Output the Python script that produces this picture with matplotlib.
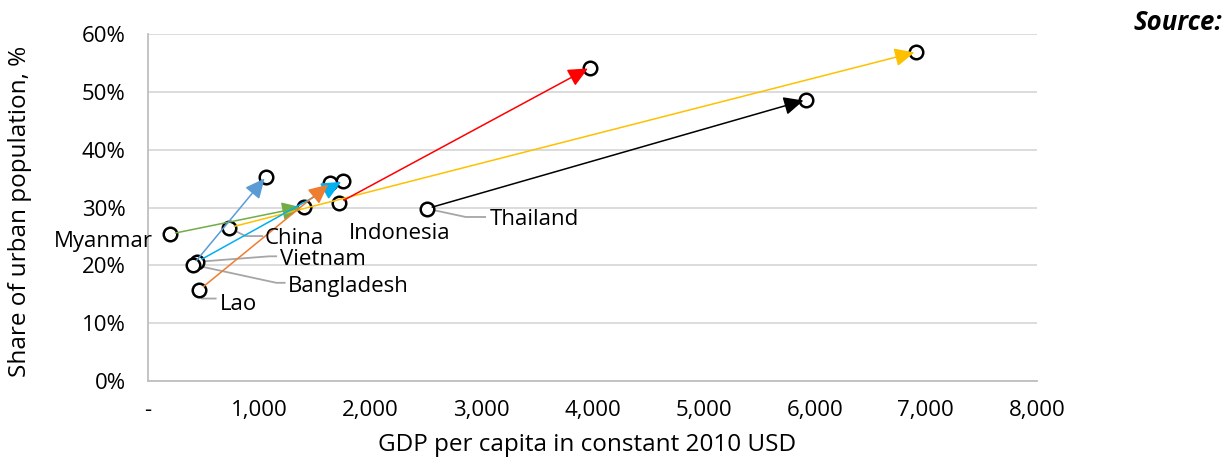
import matplotlib
matplotlib.use("Agg")
import matplotlib.pyplot as plt
from matplotlib.ticker import FuncFormatter

plt.rcParams['font.family'] = ['Open Sans', 'DejaVu Sans']

# GDP per capita (constant 2010 USD) and urban share (%), start and end years
countries = ["Myanmar", "China", "Indonesia", "Thailand", "Vietnam", "Bangladesh", "Lao"]
gdp_start = [198, 728, 1718, 2509, 441, 405, 459]
gdp_end = [1400, 6915, 3975, 5917, 1754, 1061, 1637]
urban_start = [25.4, 26.5, 30.8, 29.8, 20.6, 20.1, 15.7]
urban_end = [30.1, 56.9, 54.2, 48.6, 34.6, 35.3, 34.2]
arrow_colors = ["#70AD47", "#FFC000", "#FF0000", "#000000", "#00B0F0", "#5B9BD5", "#ED7D31"]

x_ticks = [0, 1000, 2000, 3000, 4000, 5000, 6000, 7000, 8000]
y_ticks = [0, 10, 20, 30, 40, 50, 60]

fig = plt.figure(figsize=(12.31, 4.59), dpi=100)
ax = fig.add_axes([148 / 1231, 1 - 381 / 459, (1037 - 148) / 1231, (381 - 34) / 459])

ax.set_xlim(0, 8000)
ax.set_ylim(0, 60)
ax.set_xticks(x_ticks)
ax.set_yticks(y_ticks)
ax.xaxis.set_major_formatter(FuncFormatter(lambda v, p: "-" if v == 0 else f"{v:,.0f}"))
ax.yaxis.set_major_formatter(FuncFormatter(lambda v, p: f"{v:.0f}%"))
ax.tick_params(length=0, labelsize=16, colors="#000000")
ax.tick_params(axis="y", pad=16)
ax.tick_params(axis="x", pad=14)

ax.grid(axis="y", color="#D9D9D9", lw=1.3)
ax.set_axisbelow(True)
for side in ["top", "right"]:
    ax.spines[side].set_visible(False)
for side in ["left", "bottom"]:
    ax.spines[side].set_color("#BFBFBF")
    ax.spines[side].set_linewidth(1.3)

fig.text(0.5 * (375 + 800) / 1231, 1 - 445 / 459, "GDP per capita in constant 2010 USD",
         ha="center", va="center", fontsize=17.5)
fig.text(20 / 1231, 1 - 211 / 459, "Share of urban population, %", rotation=90,
         ha="center", va="center", fontsize=17.5)

# Start and end points
ax.scatter(gdp_start + gdp_end, urban_start + urban_end, s=95, facecolor="white",
           edgecolor="black", linewidth=1.8, zorder=3, clip_on=False)

# Arrows from start to end for each country
for xs, ys, xe, ye, c in zip(gdp_start, urban_start, gdp_end, urban_end, arrow_colors):
    ax.annotate("", xy=(xe, ye), xytext=(xs, ys),
                arrowprops=dict(arrowstyle="-|>,head_length=0.75,head_width=0.35",
                                color=c, lw=1.1, shrinkA=4, shrinkB=1.5,
                                mutation_scale=16),
                zorder=4)

# Country labels: text offset and grey leader line, both in points from the start marker
label_layout = {
    "Myanmar": (-12, -5, "right", None),
    "China": (26, -8, "left", [(0, 0), (12, -6), (24, -6)]),
    "Indonesia": (7, -22, "left", None),
    "Thailand": (45, -8, "left", [(0, 0), (28, -6), (42, -6)]),
    "Vietnam": (60, 2, "left", [(0, 0), (52, 4), (57, 4)]),
    "Bangladesh": (68, -16, "left", [(0, 0), (60, -13), (66, -13)]),
    "Lao": (15, -10, "left", [(0, 0), (2, -6), (12, -6)]),
}
fig.canvas.draw()
inv = ax.transData.inverted()
for name, xs, ys in zip(countries, gdp_start, urban_start):
    dx, dy, ha, leader = label_layout[name]
    ax.annotate(name, xy=(xs, ys), xytext=(dx, dy), textcoords="offset points",
                ha=ha, va="center", fontsize=16, zorder=5)
    if leader is not None:
        bx, by = ax.transData.transform((xs, ys))
        pts = [inv.transform((bx + px * fig.dpi / 72, by + py * fig.dpi / 72))
               for px, py in leader]
        ax.plot([p[0] for p in pts], [p[1] for p in pts], color="#A6A6A6",
                lw=1.3, zorder=2.5, clip_on=False)

fig.text(1222 / 1231, 1 - 22 / 459, "Source:", ha="right", va="center",
         fontsize=18.5, fontweight="bold", fontstyle="italic")

fig.savefig("out.png", dpi=100)
